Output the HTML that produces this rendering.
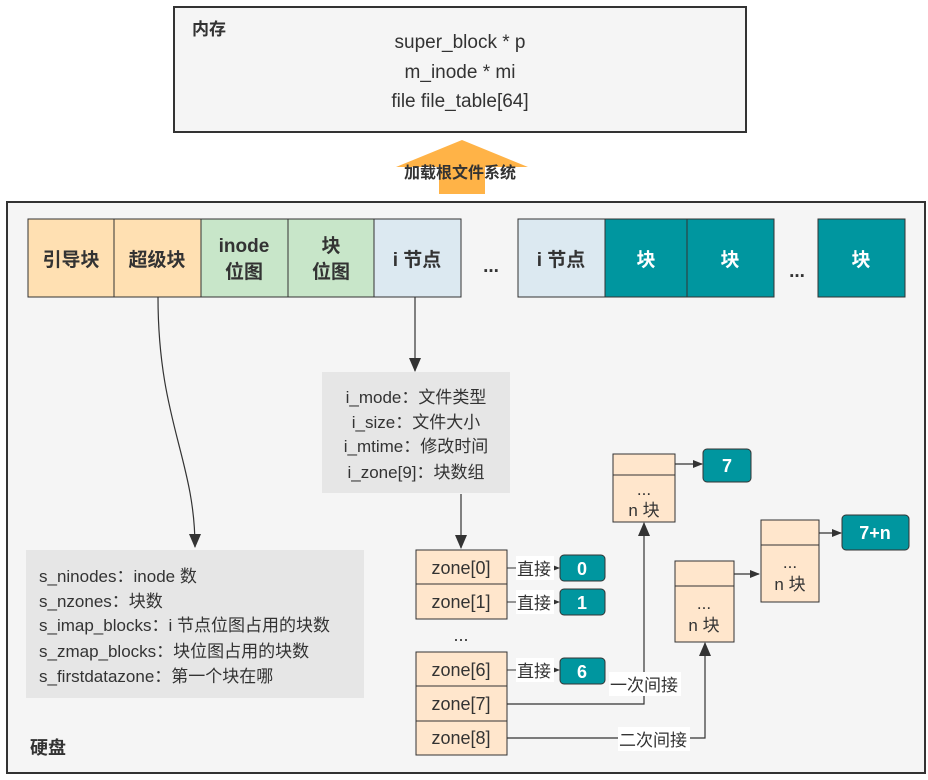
<!DOCTYPE html>
<html><head><meta charset="utf-8"><style>
html,body{margin:0;padding:0;background:#fff;}
svg{display:block;}
text{font-family:"Liberation Sans","Noto Sans CJK SC",sans-serif;fill:#333;}
.b{font-weight:bold;}
.w{fill:#fff;font-weight:bold;}
</style></head><body>
<svg width="928" height="780" viewBox="0 0 928 780" xmlns="http://www.w3.org/2000/svg">
<defs>
<marker id="ar" markerWidth="10" markerHeight="10" refX="9" refY="5" orient="auto" markerUnits="userSpaceOnUse">
<path d="M0,1 L10,5 L0,9 Z" fill="#333"/></marker>
<marker id="ar2" markerWidth="14" markerHeight="16" refX="13" refY="8" orient="auto" markerUnits="userSpaceOnUse">
<path d="M0,2 L14,8 L0,14 Z" fill="#333"/></marker>
</defs>
<rect x="174" y="7" width="572" height="125" fill="#f5f5f5" stroke="#333" stroke-width="2"/>
<text x="192" y="35" font-size="17" class="b">内存</text>
<text x="460" y="48" font-size="19" text-anchor="middle">super_block * p</text>
<text x="460" y="78" font-size="19" text-anchor="middle">m_inode * mi</text>
<text x="460" y="107" font-size="19" text-anchor="middle">file file_table[64]</text>
<path d="M462,140 L528,167 L485,167 L485,194 L439,194 L439,167 L396,167 Z" fill="#ffb347"/>
<text x="460" y="178" font-size="16" class="b" text-anchor="middle">加载根文件系统</text>
<rect x="7" y="202" width="918" height="571" fill="#f5f5f5" stroke="#333" stroke-width="2"/>
<text x="30" y="754" font-size="18" class="b">硬盘</text>
<g stroke="#333" stroke-width="1">
<rect x="28" y="219" width="86" height="78" fill="#ffe0b2"/>
<rect x="114" y="219" width="87" height="78" fill="#ffe0b2"/>
<rect x="201" y="219" width="87" height="78" fill="#c8e6c9"/>
<rect x="288" y="219" width="86" height="78" fill="#c8e6c9"/>
<rect x="374" y="219" width="87" height="78" fill="#dce9f1"/>
<rect x="518" y="219" width="87" height="78" fill="#dce9f1"/>
<rect x="605" y="219" width="82" height="78" fill="#00969f"/>
<rect x="687" y="219" width="87" height="78" fill="#00969f"/>
<rect x="818" y="219" width="87" height="78" fill="#00969f"/>
</g>
<g font-size="19" text-anchor="middle">
<text x="71" y="266" class="b">引导块</text>
<text x="157" y="266" class="b">超级块</text>
<text x="244" y="252" class="b">inode</text>
<text x="244" y="278" class="b">位图</text>
<text x="331" y="252" class="b">块</text>
<text x="331" y="278" class="b">位图</text>
<text x="417" y="266" class="b">i 节点</text>
<text x="491" y="272" class="b">...</text>
<text x="561" y="266" class="b">i 节点</text>
<text x="646" y="266" class="w">块</text>
<text x="730" y="266" class="w">块</text>
<text x="797" y="277" class="b">...</text>
<text x="861" y="266" class="w">块</text>
</g>
<path d="M158,297 C158,420 195,460 195,547" fill="none" stroke="#333" stroke-width="1.2" marker-end="url(#ar2)"/>
<line x1="415" y1="297" x2="415" y2="371" stroke="#333" stroke-width="1.2" marker-end="url(#ar2)"/>
<rect x="322" y="372" width="188" height="121" fill="#e6e6e6"/>
<g font-size="17" text-anchor="middle">
<text x="416" y="403">i_mode：文件类型</text>
<text x="416" y="428">i_size：文件大小</text>
<text x="416" y="452">i_mtime：修改时间</text>
<text x="416" y="478">i_zone[9]：块数组</text>
</g>
<rect x="26" y="550" width="338" height="148" fill="#e6e6e6"/>
<g font-size="17">
<text x="39" y="582">s_ninodes：inode 数</text>
<text x="39" y="607">s_nzones：块数</text>
<text x="39" y="631">s_imap_blocks：i 节点位图占用的块数</text>
<text x="39" y="657">s_zmap_blocks：块位图占用的块数</text>
<text x="39" y="682">s_firstdatazone：第一个块在哪</text>
</g>
<line x1="461" y1="494" x2="461" y2="548" stroke="#333" stroke-width="1.2" marker-end="url(#ar2)"/>
<g stroke="#333" stroke-width="1" fill="#ffe6cc">
<rect x="416" y="550" width="91" height="34"/>
<rect x="416" y="584" width="91" height="35"/>
<rect x="416" y="652" width="91" height="34"/>
<rect x="416" y="686" width="91" height="35"/>
<rect x="416" y="721" width="91" height="34"/>
</g>
<g font-size="18" text-anchor="middle">
<text x="461" y="574">zone[0]</text>
<text x="461" y="608">zone[1]</text>
<text x="461" y="641">...</text>
<text x="461" y="676">zone[6]</text>
<text x="461" y="710">zone[7]</text>
<text x="461" y="744">zone[8]</text>
</g>
<g stroke="#333" stroke-width="1">
<line x1="507" y1="568" x2="559" y2="568" marker-end="url(#ar)"/>
<line x1="507" y1="602" x2="559" y2="602" marker-end="url(#ar)"/>
<line x1="507" y1="670" x2="559" y2="670" marker-end="url(#ar)"/>
</g>
<g fill="#fff"><rect x="516" y="556" width="38" height="24"/><rect x="516" y="590" width="38" height="24"/><rect x="516" y="658" width="38" height="24"/></g>
<g font-size="17"><text x="517" y="575">直接</text><text x="517" y="609">直接</text><text x="517" y="677">直接</text></g>
<g fill="#00969f" stroke="#333" stroke-width="1">
<rect x="560" y="555" width="45" height="26" rx="4"/>
<rect x="560" y="589" width="45" height="26" rx="4"/>
<rect x="560" y="658" width="45" height="26" rx="4"/>
<rect x="703" y="449" width="48" height="33" rx="4"/>
<rect x="842" y="515" width="67" height="35" rx="4"/>
</g>
<g font-size="18" text-anchor="middle">
<text x="582" y="575" class="w">0</text>
<text x="582" y="609" class="w">1</text>
<text x="582" y="678" class="w">6</text>
<text x="727" y="472" class="w">7</text>
<text x="875" y="539" class="w">7+n</text>
</g>
<g stroke="#333" stroke-width="1" fill="#ffe6cc">
<rect x="613" y="454" width="62" height="21"/><rect x="613" y="475" width="62" height="47"/>
<rect x="675" y="561" width="59" height="25"/><rect x="675" y="586" width="59" height="56"/>
<rect x="761" y="520" width="58" height="25"/><rect x="761" y="545" width="58" height="57"/>
</g>
<g font-size="17" text-anchor="middle">
<text x="644" y="495">...</text><text x="644" y="516">n 块</text>
<text x="704" y="609">...</text><text x="704" y="631">n 块</text>
<text x="790" y="568">...</text><text x="790" y="590">n 块</text>
</g>
<g stroke="#333" stroke-width="1.2" fill="none">
<line x1="675" y1="464" x2="702" y2="464" marker-end="url(#ar)"/>
<line x1="819" y1="533" x2="841" y2="533" marker-end="url(#ar)"/>
<line x1="734" y1="574" x2="759" y2="574" marker-end="url(#ar)"/>
<polyline points="507,704 644,704 644,523" marker-end="url(#ar2)"/>
<polyline points="507,738 705,738 705,643" marker-end="url(#ar2)"/>
</g>
<rect x="609" y="672" width="72" height="24" fill="#fff"/>
<text x="610" y="691" font-size="17">一次间接</text>
<rect x="618" y="727" width="72" height="24" fill="#fff"/>
<text x="619" y="746" font-size="17">二次间接</text>
</svg>
</body></html>
